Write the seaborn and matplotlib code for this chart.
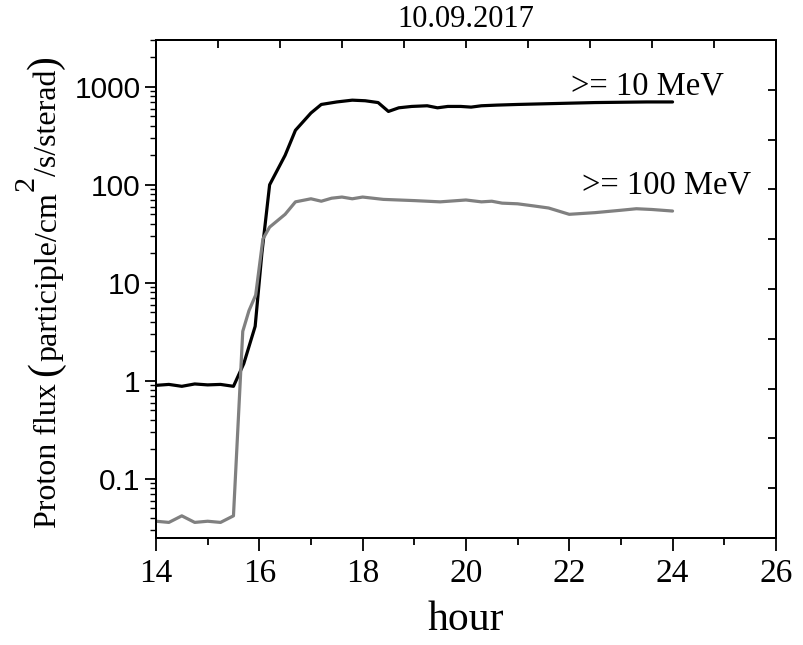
import matplotlib
matplotlib.use("Agg")
import matplotlib.pyplot as plt
from matplotlib.ticker import FixedLocator, LogLocator, NullFormatter, FixedFormatter
import numpy as np
import pandas as pd
import seaborn as sns

# Proton flux above 10 MeV (hours UT, particles/cm^2/s/sr)
hours10 = [14.0, 14.25, 14.5, 14.75, 15.0, 15.25, 15.5, 15.7, 15.92, 16.05, 16.2,
           16.5, 16.7, 17.0, 17.2, 17.5, 17.8, 18.05, 18.3, 18.5, 18.7, 18.95,
           19.25, 19.45, 19.65, 19.9, 20.1, 20.3, 20.6, 21.0, 21.5, 22.0, 22.5,
           23.0, 23.5, 24.0]
flux10 = [0.90, 0.92, 0.88, 0.93, 0.91, 0.92, 0.88, 1.5, 3.6, 20, 100,
          200, 360, 540, 660, 700, 730, 720, 690, 560, 610, 630,
          640, 610, 630, 630, 620, 640, 650, 660, 670, 680, 690,
          695, 700, 700]

# Proton flux above 100 MeV
hours100 = [14.0, 14.25, 14.5, 14.75, 15.0, 15.25, 15.5, 15.68, 15.8, 15.93, 16.07,
            16.2, 16.5, 16.7, 17.0, 17.2, 17.4, 17.6, 17.8, 18.0, 18.4, 19.0,
            19.5, 20.0, 20.3, 20.5, 20.7, 21.0, 21.3, 21.6, 22.0, 22.5, 23.0,
            23.3, 23.6, 24.0]
flux100 = [0.037, 0.036, 0.042, 0.036, 0.037, 0.036, 0.042, 3.2, 5.2, 7.5, 28,
           37, 50, 67, 72, 68, 73, 75, 72, 75, 71, 69,
           67, 70, 67, 68, 65, 64, 61, 58, 50, 52, 55,
           57, 56, 54]

x_ticks = [14, 16, 18, 20, 22, 24, 26]
y_ticks = [0.1, 1, 10, 100, 1000]
y_tick_labels = ["0.1", "1", "10", "100", "1000"]
title = "10.09.2017"
label10 = ">= 10 MeV"
label100 = ">= 100 MeV"

sns.set_style("ticks")
plt.rcParams["font.family"] = ["Liberation Serif", "DejaVu Serif"]
for key in ("text.color", "axes.labelcolor", "xtick.color", "ytick.color",
            "axes.edgecolor"):
    plt.rcParams[key] = "black"

df10 = pd.DataFrame({"hour": hours10, "flux": flux10})
df100 = pd.DataFrame({"hour": hours100, "flux": flux100})

W, H = 804, 645
fig = plt.figure(figsize=(W / 100, H / 100), dpi=100)
ax = fig.add_axes([0.194, 0.166, 0.771, 0.772])

sns.lineplot(data=df10, x="hour", y="flux", ax=ax, color="black", lw=2.3)
sns.lineplot(data=df100, x="hour", y="flux", ax=ax, color="#808080", lw=2.3)

ax.set_yscale("log")
ax.set_xlim(14, 26)
ax.set_ylim(0.025, 3000)
ax.set_xlabel("")
ax.set_ylabel("")

for sp in ax.spines.values():
    sp.set_linewidth(1.3)

ax.xaxis.set_major_locator(FixedLocator(x_ticks))
ax.xaxis.set_minor_locator(FixedLocator(np.arange(15, 26, 2)))
ax.set_xticklabels([str(t) for t in x_ticks], fontsize=24,
                   family=["Liberation Serif"])
ax.yaxis.set_major_locator(FixedLocator(y_ticks))
ax.yaxis.set_major_formatter(FixedFormatter(y_tick_labels))
ax.yaxis.set_minor_locator(LogLocator(base=10, subs=np.arange(2, 10)))
ax.yaxis.set_minor_formatter(NullFormatter())
for lab in ax.get_yticklabels():
    lab.set_family(["Liberation Sans"])
    lab.set_fontsize(21.5)

ax.tick_params(axis="x", which="major", direction="out", length=9, width=1.3, pad=6)
ax.tick_params(axis="x", which="minor", direction="out", length=5, width=1.3)
ax.tick_params(axis="y", which="major", direction="out", length=8, width=1.3, pad=3)
ax.tick_params(axis="y", which="minor", direction="out", length=4, width=1.0)

# Inward ticks on the top and right frame
top = ax.twiny()
top.set_xlim(0, 10)
top.xaxis.set_major_locator(FixedLocator(np.arange(0, 11)))
top.tick_params(axis="x", direction="in", length=6, width=1.3, labeltop=False)
right = ax.twinx()
right.set_ylim(0, 10)
right.yaxis.set_major_locator(FixedLocator(np.arange(0, 11)))
right.tick_params(axis="y", direction="in", length=6, width=1.3, labelright=False)
for a in (top, right):
    for sp in a.spines.values():
        sp.set_linewidth(1.3)

ax.set_xlabel("hour", fontsize=30, labelpad=8)
ax.set_title(title, fontsize=22, pad=9)

ax.text(22.03, 830, label10, fontsize=23.5, ha="left", va="baseline")
ax.text(22.24, 82, label100, fontsize=23.5, ha="left", va="baseline")

# Vertical axis title, set piece by piece: large brackets and a raised "2"
renderer = fig.canvas.get_renderer()
fs = 23
pieces = [
    ("Proton flux", fs, 0, 7),
    ("(", fs * 1.3, 0, 1),
    ("participle/cm", fs, 0, 1),
    ("2", fs * 0.95, 22, 0),
    ("/s/sterad", fs, 0, 1),
    (")", fs * 1.3, 0, 0),
]
base_x = 56            # baseline, pixels from the left edge
pos_y = H - 528        # start, pixels from the bottom edge
for txt, size, lift, gap in pieces:
    t = fig.text((base_x - lift) / W, pos_y / H, txt, fontsize=size,
                 rotation=90, rotation_mode="anchor", ha="left", va="baseline")
    pos_y += t.get_window_extent(renderer).height + gap

fig.savefig("out.png", dpi=100)
